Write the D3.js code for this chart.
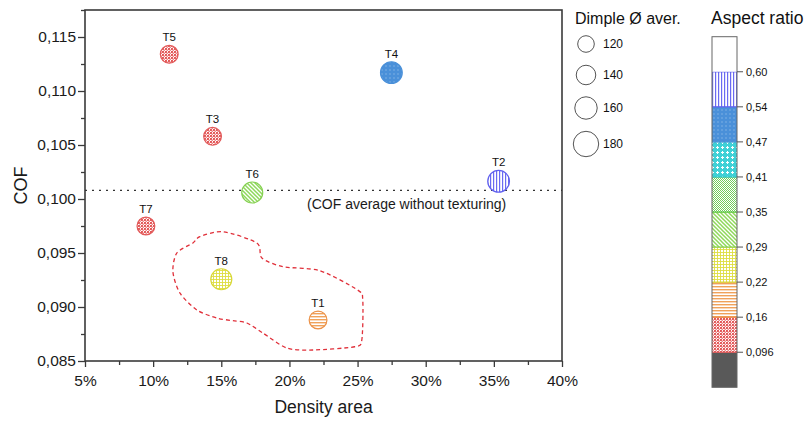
<!DOCTYPE html>
<html>
<head>
<meta charset="utf-8">
<script src="https://cdn.jsdelivr.net/npm/d3@7"></script>
<style>
  body { margin: 0; background: #fff; }
  svg { font-family: "Liberation Sans", Arial, sans-serif; }
</style>
</head>
<body>
<svg width="812" height="421"></svg>
<script>
// samples
const names = ['T1', 'T2', 'T3', 'T4', 'T5', 'T6', 'T7', 'T8'];
const density = [22.1, 35.35, 14.36, 27.48, 11.18, 17.27, 9.47, 15.0];
const cof = [0.0888, 0.10164, 0.1058, 0.1117, 0.1134, 0.1006, 0.0975, 0.09257];
const dimple = [128, 155, 128, 155, 128, 150, 128, 150];
const aspect = [0.19, 0.57, 0.13, 0.50, 0.13, 0.32, 0.13, 0.25];

const cofAverage = 0.1008;

// ticks
const xTicks = [5, 10, 15, 20, 25, 30, 35, 40];
const yTicks = [0.085, 0.090, 0.095, 0.100, 0.105, 0.110, 0.115];

// legend
const dimpleLegend = [120, 140, 160, 180];
const aspectBreaks = [0.096, 0.16, 0.22, 0.29, 0.35, 0.41, 0.47, 0.54, 0.60];
const aspectLabels = ['0,096', '0,16', '0,22', '0,29', '0,35', '0,41', '0,47', '0,54', '0,60'];

// dashed outline around T8 / T1  [density %, COF]
const outline = [
  [15.12, 0.09697], [17.61, 0.09593], [17.98, 0.09454], [19.52, 0.09373],
  [22.23, 0.09336], [25.01, 0.09157], [25.38, 0.09065], [25.31, 0.08694],
  [24.79, 0.08632], [21.72, 0.08602], [19.81, 0.0862], [18.05, 0.08759],
  [16.88, 0.08852], [15.85, 0.08873], [14.68, 0.08898], [13.21, 0.08972],
  [11.96, 0.0913], [11.45, 0.09327], [11.74, 0.095], [12.92, 0.09593],
  [13.43, 0.09651]
];

const svg = d3.select('svg');
const plotLeft = 85, plotRight = 562, plotTop = 10, plotBottom = 361;
const axisColor = '#3a3a3a';

const xScale = d3.scaleLinear().domain([5, 40]).range([plotLeft, plotRight]);
const yScale = d3.scaleLinear().domain([0.085, 0.1175]).range([plotBottom, plotTop]);
const rScale = d3.scaleLinear().domain([120, 180]).range([8.3, 12.7]);

// patterns, one per aspect ratio class (bottom to top)
const defs = svg.append('defs');
const pat = (id, size, bg, draw) => {
  const p = defs.append('pattern').attr('id', id).attr('patternUnits', 'userSpaceOnUse')
    .attr('width', size).attr('height', size);
  p.append('rect').attr('width', size).attr('height', size).attr('fill', bg);
  draw(p);
};
pat('p0', 4, '#595959', () => {});
pat('p1', 3, '#ffffff', (p) => {
  p.append('rect').attr('width', 2).attr('height', 2).attr('fill', '#e25a5a');
  p.append('rect').attr('x', 1.5).attr('y', 1.5).attr('width', 1.5).attr('height', 1.5).attr('fill', '#ef8a8a');
});
pat('p2', 3, '#ffffff', (p) => {
  p.append('rect').attr('y', 1).attr('width', 3).attr('height', 1.4).attr('fill', '#f0a25a');
});
pat('p3', 3, '#ffffff', (p) => {
  p.append('rect').attr('width', 3).attr('height', 0.9).attr('fill', '#dede40');
  p.append('rect').attr('width', 0.9).attr('height', 3).attr('fill', '#dede40');
});
pat('p4', 4, '#ffffff', (p) => {
  p.append('path').attr('d', 'M-1,-1 L5,5 M3,-1 L5,1 M-1,3 L1,5').attr('stroke', '#8ed85a').attr('stroke-width', 1.5);
});
pat('p5', 2, '#ffffff', (p) => {
  p.append('rect').attr('width', 1).attr('height', 1).attr('fill', '#72cc5a');
  p.append('rect').attr('x', 1).attr('y', 1).attr('width', 1).attr('height', 1).attr('fill', '#72cc5a');
});
pat('p6', 5, '#3fd0d6', (p) => {
  p.append('rect').attr('x', 1).attr('y', 2).attr('width', 3).attr('height', 1).attr('fill', '#ffffff');
  p.append('rect').attr('x', 2).attr('y', 1).attr('width', 1).attr('height', 3).attr('fill', '#ffffff');
});
pat('p7', 4, '#4a90d9', (p) => {
  p.append('rect').attr('x', 1.5).attr('y', 1.5).attr('width', 1).attr('height', 1).attr('fill', '#a8cdf0');
});
pat('p8', 3, '#ffffff', (p) => {
  p.append('rect').attr('x', 1).attr('width', 1.2).attr('height', 3).attr('fill', '#6a6af2');
});
pat('p9', 4, '#ffffff', () => {});

const strokes = ['#444', '#e25a5a', '#ec9248', '#d8d838', '#84d050', '#60c848', '#30c8d0', '#4a90d9', '#6060ee', '#888'];
const aspectClass = d3.scaleThreshold().domain(aspectBreaks).range(d3.range(10));

// axes
const xAxis = d3.axisBottom(xScale).tickValues(xTicks).tickSize(6).tickFormat((d) => d + '%');
const yAxis = d3.axisLeft(yScale).tickValues(yTicks).tickSize(7)
  .tickFormat((d) => d3.format('.3f')(d).replace('.', ','));

const xMinor = d3.axisBottom(xScale).tickValues(xTicks.slice(0, -1).map((d) => d + 2.5)).tickSize(4).tickFormat('');
const yMinor = d3.axisLeft(yScale).tickValues(yTicks.map((d) => d + 0.0025)).tickSize(4).tickFormat('');

const styleAxis = (g) => {
  g.selectAll('.domain').remove();
  g.selectAll('line').attr('stroke', axisColor).attr('stroke-width', 1.3);
  g.selectAll('text').attr('fill', '#1a1a1a').style('font-size', '15.5px');
};

svg.append('g').attr('transform', 'translate(0,' + plotBottom + ')').call(xAxis).call(styleAxis)
  .selectAll('text').attr('dy', '1.05em');
svg.append('g').attr('transform', 'translate(0,' + plotBottom + ')').call(xMinor).call(styleAxis);
svg.append('g').attr('transform', 'translate(' + plotLeft + ',0)').call(yAxis).call(styleAxis)
  .selectAll('text').attr('x', -9);
svg.append('g').attr('transform', 'translate(' + plotLeft + ',0)').call(yMinor).call(styleAxis);

svg.append('rect').attr('x', plotLeft).attr('y', plotTop).attr('width', plotRight - plotLeft).attr('height', plotBottom - plotTop)
  .attr('fill', 'none').attr('stroke', axisColor).attr('stroke-width', 1.6);

// axis titles
svg.append('text').attr('transform', 'translate(27,' + ((plotTop + plotBottom) / 2) + ') rotate(-90)')
  .attr('text-anchor', 'middle').style('font-size', '18px').attr('fill', '#1a1a1a').text('COF');
svg.append('text').attr('x', (plotLeft + plotRight) / 2).attr('y', 413)
  .attr('text-anchor', 'middle').style('font-size', '17.5px').attr('fill', '#1a1a1a').text('Density area');

// average line
svg.append('line').attr('x1', plotLeft).attr('x2', plotRight)
  .attr('y1', yScale(cofAverage)).attr('y2', yScale(cofAverage))
  .attr('stroke', '#333').attr('stroke-width', 1.4).attr('stroke-dasharray', '2,5');
svg.append('text').attr('x', xScale(28.6)).attr('y', yScale(cofAverage) + 19)
  .attr('text-anchor', 'middle').style('font-size', '14px').attr('fill', '#1a1a1a')
  .text('(COF average without texturing)');

// outline
svg.append('path')
  .attr('d', d3.line().x((d) => xScale(d[0])).y((d) => yScale(d[1])).curve(d3.curveCardinalClosed.tension(0.2))(outline))
  .attr('fill', 'none').attr('stroke', '#e0303a').attr('stroke-width', 1.3).attr('stroke-dasharray', '4,3');

// points
const pts = names.map((n, i) => ({ name: n, x: density[i], y: cof[i], d: dimple[i], a: aspect[i] }));
svg.selectAll('circle.pt').data(pts).enter().append('circle').attr('class', 'pt')
  .attr('cx', (d) => xScale(d.x)).attr('cy', (d) => yScale(d.y)).attr('r', (d) => rScale(d.d))
  .attr('fill', (d) => 'url(#p' + aspectClass(d.a) + ')')
  .attr('stroke', (d) => strokes[aspectClass(d.a)]).attr('stroke-width', 1.2);
svg.selectAll('text.lbl').data(pts).enter().append('text').attr('class', 'lbl')
  .attr('x', (d) => xScale(d.x)).attr('y', (d) => yScale(d.y) - rScale(d.d) - 4)
  .attr('text-anchor', 'middle').style('font-size', '11.5px').attr('fill', '#111').text((d) => d.name);

// size legend
svg.append('text').attr('x', 575).attr('y', 24).style('font-size', '16px').attr('fill', '#111').text('Dimple Ø aver.');
const legY = [44, 75, 108, 144];
dimpleLegend.forEach((v, i) => {
  svg.append('circle').attr('cx', 586).attr('cy', legY[i]).attr('r', rScale(v))
    .attr('fill', 'none').attr('stroke', '#555').attr('stroke-width', 1);
  svg.append('text').attr('x', 603).attr('y', legY[i] + 4).style('font-size', '12px').attr('fill', '#111').text(v);
});

// colour bar
svg.append('text').attr('x', 711).attr('y', 24).style('font-size', '17.5px').attr('fill', '#111').text('Aspect ratio');
const barX = 712, barW = 25, barTop = 36.7, barBottom = 387.3;
const barScale = d3.scaleLinear().domain([0, 10]).range([barBottom, barTop]);
d3.range(10).forEach((k) => {
  svg.append('rect').attr('x', barX).attr('y', barScale(k + 1)).attr('width', barW)
    .attr('height', barScale(k) - barScale(k + 1)).attr('fill', 'url(#p' + k + ')');
  if (k > 0 && k < 9) {
    svg.append('line').attr('x1', barX).attr('x2', barX + barW)
      .attr('y1', barScale(k + 1)).attr('y2', barScale(k + 1)).attr('stroke', strokes[k]).attr('stroke-width', 1.2);
    svg.append('line').attr('x1', barX).attr('x2', barX + barW)
      .attr('y1', barScale(k)).attr('y2', barScale(k)).attr('stroke', strokes[k]).attr('stroke-width', 1.2);
  }
});
svg.append('rect').attr('x', barX).attr('y', barTop).attr('width', barW).attr('height', barBottom - barTop)
  .attr('fill', 'none').attr('stroke', '#666').attr('stroke-width', 1);
aspectLabels.forEach((t, i) => {
  const y = barScale(i + 1);
  svg.append('line').attr('x1', barX + barW).attr('x2', barX + barW + 6).attr('y1', y).attr('y2', y)
    .attr('stroke', '#555').attr('stroke-width', 1);
  svg.append('text').attr('x', barX + barW + 9).attr('y', y + 4).style('font-size', '11px').attr('fill', '#111').text(t);
});
</script>
</body>
</html>
